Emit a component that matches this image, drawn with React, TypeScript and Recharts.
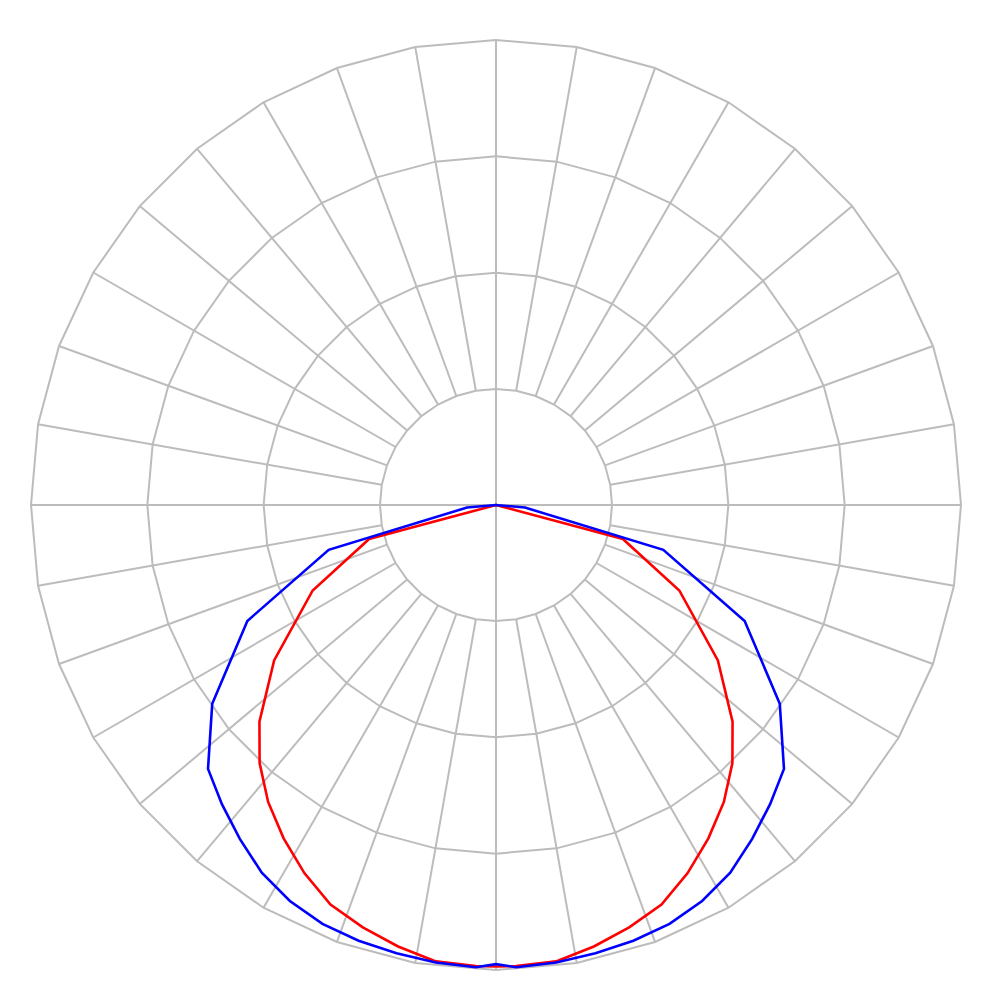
import { RadarChart, Radar, PolarGrid, PolarAngleAxis, PolarRadiusAxis } from "recharts";

// gamma angles (deg from nadir)
const gammas = [0, 2.5, 7.5, 12.5, 17.5, 22.5, 27.5, 32.5, 37.5, 42.5, 47.5, 55, 65, 75, 85, 90];

// C0-C180 plane (red)
const redValues = [397, 397, 396, 389, 381, 372, 357, 340, 322, 301, 276, 233, 174, 113, 0, 0];

// C90-C270 plane (blue)
const blueValues = [395, 398, 397, 395, 393, 390, 384, 375, 362, 349, 336, 298, 236, 149, 25, 0];

// grid spokes every 10 deg, main axes through the centre
const spokeAngles = [0, 10, 20, 30, 40, 50, 60, 70, 80, 90, 100, 110, 120, 130, 140, 150, 160, 170,
  180, 190, 200, 210, 220, 230, 240, 250, 260, 270, 280, 290, 300, 310, 320, 330, 340, 350];
const mainAngles = [0, 90, 180, 270];

// rings: 100 .. 400
const ringDomain = [100, 400];
const valueDomain = [0, 400];

const rightSide = gammas.map((g, i) => ({ pos: g, red: redValues[i], blue: blueValues[i] }));
const leftSide = gammas
  .map((g, i) => ({ pos: 360 - g, red: redValues[i], blue: blueValues[i] }))
  .slice(1)
  .reverse();
const rows = [...leftSide, ...rightSide];

const spokeRows = spokeAngles.map((a) => ({ angle: a }));

const CX = 496;
const CY = 505;
const OUTER = 465;
const GRID = "#bcbcbc";

export default function App() {
  return (
    <div style={{ position: "absolute", left: 0, top: 0, width: 1000, height: 1000, background: "#fff" }}>
      {/* spokes start at the inner ring */}
      <div style={{ position: "absolute", left: 0, top: 0 }}>
        <RadarChart
          width={1000}
          height={1000}
          data={spokeRows}
          cx={CX}
          cy={CY}
          innerRadius={116}
          outerRadius={OUTER}
          startAngle={-90}
          endAngle={270}
          margin={{ top: 0, right: 0, bottom: 0, left: 0 }}
        >
          <PolarGrid gridType="polygon" stroke={GRID} strokeWidth={2} />
          <PolarAngleAxis dataKey="angle" tick={false} axisLine={false} />
          <PolarRadiusAxis
            type="number"
            domain={ringDomain}
            tickCount={4}
            allowDataOverflow
            tick={false}
            axisLine={false}
          />
        </RadarChart>
      </div>

      {/* curves + main axes through the centre */}
      <div style={{ position: "absolute", left: 0, top: 0 }}>
        <RadarChart
          width={1000}
          height={1000}
          data={rows}
          cx={CX}
          cy={CY}
          innerRadius={0}
          outerRadius={OUTER}
          startAngle={-90}
          endAngle={270}
          margin={{ top: 0, right: 0, bottom: 0, left: 0 }}
        >
          <PolarGrid gridType="polygon" polarRadius={[]} stroke={GRID} strokeWidth={2} />
          <PolarAngleAxis
            dataKey="pos"
            type="number"
            domain={[0, 360]}
            ticks={mainAngles}
            allowDataOverflow
            tick={false}
            axisLine={false}
          />
          <PolarRadiusAxis
            type="number"
            domain={valueDomain}
            allowDataOverflow
            tick={false}
            axisLine={false}
          />
          <Radar
            dataKey="red"
            stroke="#ff0000"
            strokeWidth={2.6}
            fill="none"
            fillOpacity={0}
            dot={false}
            isAnimationActive={false}
          />
          <Radar
            dataKey="blue"
            stroke="#0000ff"
            strokeWidth={2.6}
            fill="none"
            fillOpacity={0}
            dot={false}
            isAnimationActive={false}
          />
        </RadarChart>
      </div>
    </div>
  );
}
